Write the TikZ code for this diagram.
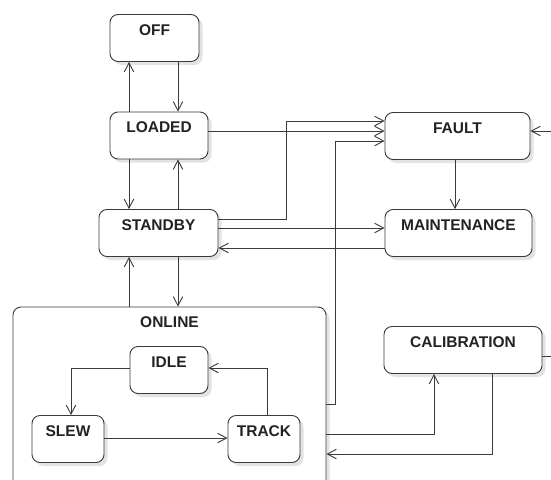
\documentclass[tikz,border=0pt]{standalone}
\usepackage{fontspec}
\setmainfont{Liberation Sans}
\usetikzlibrary{arrows.meta,shadows}
\definecolor{linec}{HTML}{3A3A3A}
\definecolor{textc}{HTML}{222222}
\begin{document}
\begin{tikzpicture}[x=1pt,y=-1pt,
 state/.style={draw=linec, line width=0.9pt, rounded corners=8pt, fill=white,
   inner sep=0pt, text height=20.5pt, text depth=26.5pt,
   font=\fontsize{15.5}{18}\selectfont\bfseries, text=textc,
   drop shadow={shadow xshift=3.5pt, shadow yshift=-3.5pt, fill=black!11, opacity=1}},
 arr/.style={draw=linec, line width=0.9pt, -{Straight Barb[length=9pt,width=9.5pt]}}]
\useasboundingbox (0,0) rectangle (551,479);
\clip (0,0) rectangle (551,479);
% states
\node[state, minimum width=313pt, text depth=179.5pt] (online) at (169.5,407) {ONLINE};
\node[state, minimum width=89pt] (off) at (154.5,38) {OFF};
\node[state, minimum width=98pt] (loaded) at (159,135.5) {LOADED};
\node[state, minimum width=119pt] (standby) at (158.5,233) {STANDBY};
\node[state, minimum width=145pt] (fault) at (457.5,136) {FAULT};
\node[state, minimum width=147pt] (maint) at (458.5,233) {MAINTENANCE};
\node[state, minimum width=158pt] (cal) at (463,350) {CALIBRATION};
\node[state, minimum width=78pt] (idle) at (169,370) {IDLE};
\node[state, minimum width=72pt] (slew) at (68,439) {SLEW};
\node[state, minimum width=72pt] (track) at (264,439) {TRACK};
% connectors
\draw[arr] (loaded.north -| 129,0) -- (off.south -| 129,0);
\draw[arr] (off.south -| 178,0) -- (loaded.north -| 178,0);
\draw[arr] (loaded.south -| 129,0) -- (standby.north -| 129,0);
\draw[arr] (standby.north -| 178,0) -- (loaded.south -| 178,0);
\draw[arr] (online.north -| 129,0) -- (standby.south -| 129,0);
\draw[arr] (standby.south -| 178,0) -- (online.north -| 178,0);
\draw[arr] (loaded.east |- 0,131) -- (fault.west |- 0,131);
\draw[arr] (standby.east |- 0,219) -- (286,219) -- (286,121) -- (fault.west |- 0,121);
\draw[arr] (standby.east |- 0,228) -- (maint.west |- 0,228);
\draw[arr] (maint.west |- 0,248) -- (standby.east |- 0,248);
\draw[arr] (fault.south -| 455,0) -- (maint.north -| 455,0);
\draw[arr] (online.east |- 0,404) -- (335,404) -- (335,141) -- (fault.west |- 0,141);
\draw[arr] (online.east |- 0,434) -| (cal.south -| 434,0);
\draw[arr] (cal.south -| 492,0) |- (online.east |- 0,454);
\draw[arr] (cal.east |- 0,356) -- (565,356) -- (565,131) -- (fault.east |- 0,131);
\draw[arr] (idle.west |- 0,368) -| (slew.north -| 71,0);
\draw[arr] (slew.east |- 0,438) -- (track.west |- 0,438);
\draw[arr] (track.north -| 267,0) |- (idle.east |- 0,368);
\end{tikzpicture}
\end{document}
